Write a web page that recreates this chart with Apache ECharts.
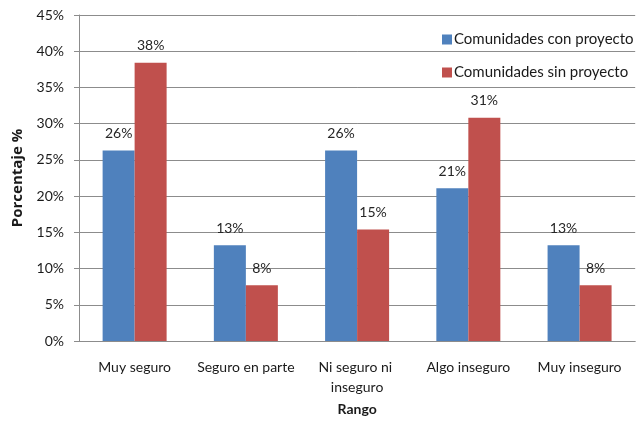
<!DOCTYPE html>
<html>
<head>
<meta charset="utf-8">
<script src="https://cdn.jsdelivr.net/npm/echarts@6/dist/echarts.min.js"></script>
<style>
  html, body { margin: 0; padding: 0; background: #fff; }
  #chart { width: 636px; height: 427px; }
</style>
</head>
<body>
<div id="chart"></div>
<script>
// Survey ranges and share of respondents (%) for each community group
const categories = ['Muy seguro', 'Seguro en parte', 'Ni seguro ni inseguro', 'Algo inseguro', 'Muy inseguro'];
const conProyecto = [26.3, 13.2, 26.3, 21.1, 13.2];
const sinProyecto = [38.4, 7.7, 15.4, 30.8, 7.7];
const yTicks = [0, 5, 10, 15, 20, 25, 30, 35, 40, 45];

const FONT = 'Lato, "Open Sans", sans-serif';
const chart = echarts.init(document.getElementById('chart'));

const labelStyle = {
  show: true,
  position: 'top',
  distance: 10,
  color: '#262626',
  fontSize: 14,
  fontFamily: FONT,
  formatter: p => Math.round(p.value) + '%'
};

chart.setOption({
  animation: false,
  backgroundColor: '#ffffff',
  textStyle: { fontFamily: FONT },
  grid: { left: 79, right: -5, top: 15, bottom: 86, containLabel: false },
  legend: {
    orient: 'vertical',
    left: 437,
    top: 27,
    itemWidth: 10,
    itemHeight: 10,
    itemGap: 18,
    icon: 'rect',
    textStyle: { fontSize: 15, color: '#1a1a1a', fontFamily: FONT, padding: [0, 0, 0, -3] },
    data: ['Comunidades con proyecto', 'Comunidades sin proyecto']
  },
  xAxis: {
    type: 'category',
    data: categories,
    name: 'Rango',
    nameLocation: 'middle',
    nameGap: 61,
    nameTextStyle: { fontSize: 14, fontWeight: 'bold', color: '#1a1a1a', fontFamily: FONT },
    axisLine: { lineStyle: { color: '#8c8c8c', width: 1 } },
    axisTick: { show: false },
    axisLabel: {
      color: '#1a1a1a',
      fontSize: 14,
      fontFamily: FONT,
      margin: 16,
      lineHeight: 20,
      width: 108,
      overflow: 'break',
      interval: 0
    }
  },
  yAxis: {
    type: 'value',
    min: yTicks[0],
    max: yTicks[yTicks.length - 1],
    interval: 5,
    name: 'Porcentaje %',
    nameLocation: 'middle',
    nameGap: 45,
    nameTextStyle: { fontSize: 15, fontWeight: 'bold', color: '#1a1a1a', fontFamily: '"Open Sans", sans-serif' },
    axisLine: { show: true, lineStyle: { color: '#8c8c8c', width: 1 } },
    axisTick: { show: true, length: 5, lineStyle: { color: '#8c8c8c' } },
    axisLabel: {
      color: '#1a1a1a',
      fontSize: 14,
      fontFamily: FONT,
      margin: 15,
      formatter: v => v + '%'
    },
    splitLine: { show: true, lineStyle: { color: '#8c8c8c', width: 1 } }
  },
  series: [
    {
      name: 'Comunidades con proyecto',
      type: 'bar',
      data: conProyecto,
      barWidth: 32,
      barGap: '0%',
      itemStyle: { color: '#4F81BD' },
      label: labelStyle
    },
    {
      name: 'Comunidades sin proyecto',
      type: 'bar',
      data: sinProyecto,
      barWidth: 32,
      barGap: '0%',
      itemStyle: { color: '#C0504D' },
      label: labelStyle
    }
  ]
});
</script>
</body>
</html>
